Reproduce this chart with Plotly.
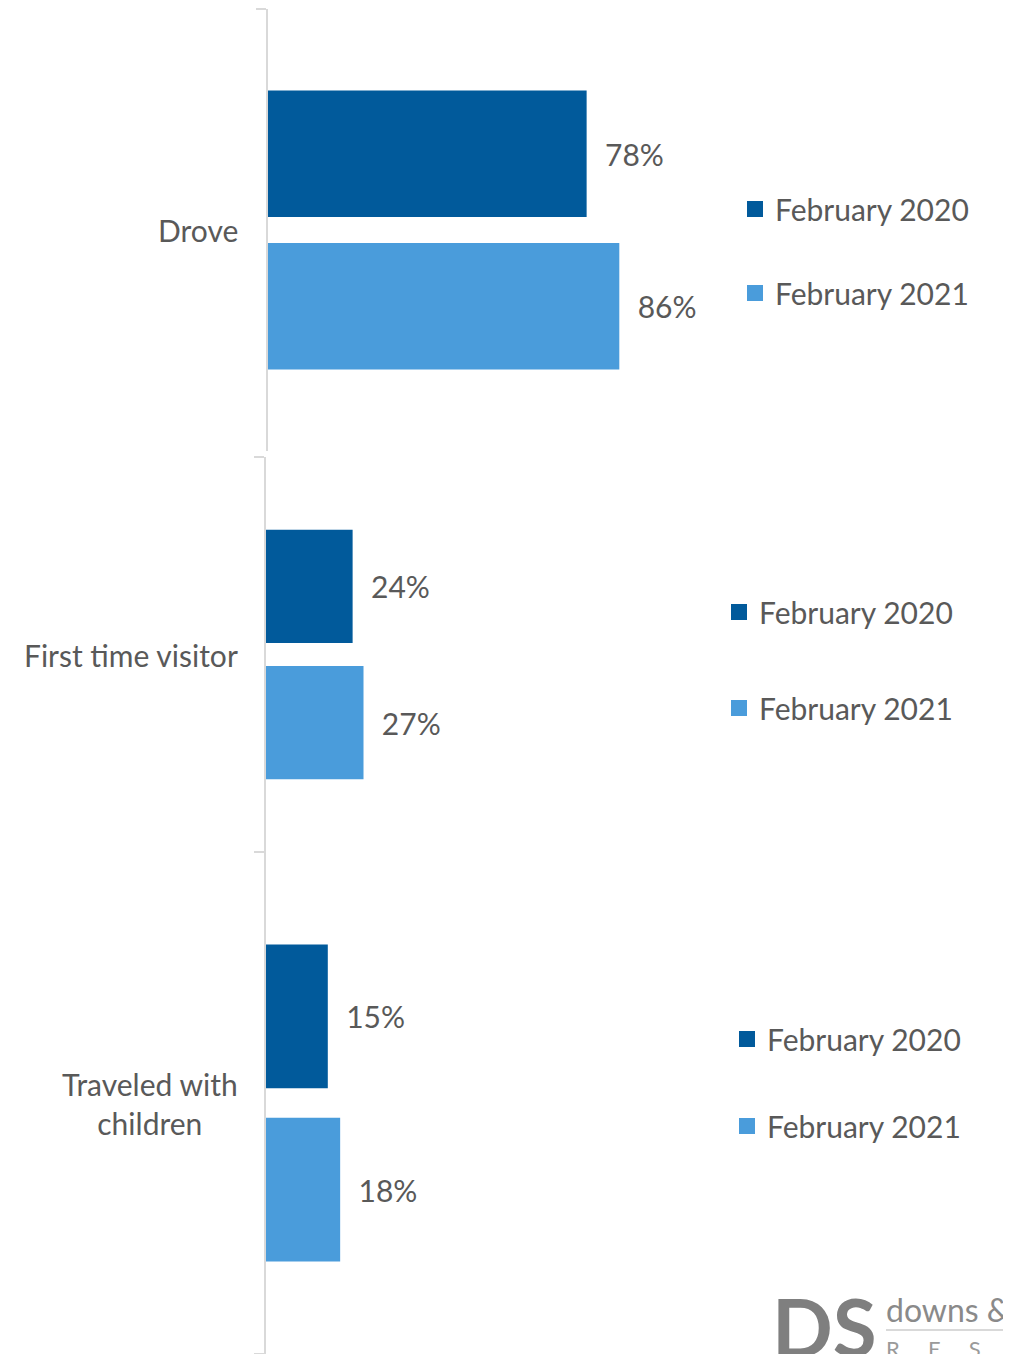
import plotly.graph_objects as go

# ---- data ----
categories = ["Drove", "First time visitor", "Traveled with<br>children"]
series_names = ["February 2020", "February 2021"]
feb2020 = [78, 24, 15]
feb2021 = [86, 27, 18]

# ---- style ----
W, H = 1011, 1354
OFF = 8  # page body margin offset
FONT = "Lato"
FS = 30
TXT = "#595959"
COL = ["#015a9b", "#4a9cdb"]
AXC = "#d9d9d9"


def px(X):
    return (X - OFF) / W


def py(Y):
    return 1 - (Y - OFF) / H


# panel geometry in reference pixels
panels = [
    dict(top=9, bottom=451, x0=268, scale=4.085, leg_x=735, leg_y=251, gap=42),
    dict(top=457, bottom=852, x0=265.5, scale=3.63, leg_x=719, leg_y=660, gap=54),
    dict(top=852, bottom=1354, x0=266, scale=4.12, leg_x=727, leg_y=1082.5, gap=45),
]

fig = go.Figure()
values = [feb2020, feb2021]
for i, cat in enumerate(categories):
    n = i + 1
    sfx = "" if n == 1 else str(n)
    for s, name in enumerate(series_names):
        v = values[s][i]
        fig.add_trace(go.Bar(
            y=[cat], x=[v], orientation="h", name=name, showlegend=False,
            marker=dict(color=COL[s], line=dict(width=0)),
            text=["\u00a0\u00a0" + f"{v}%"], textposition="outside",
            textfont=dict(family=FONT, size=FS, color=TXT),
            constraintext="none", cliponaxis=False,
            xaxis="x" + sfx, yaxis="y" + sfx,
            hoverinfo="skip",
        ))
    for s, name in enumerate(series_names):
        fig.add_trace(go.Scatter(
            x=[None], y=[None], mode="markers", name=name,
            marker=dict(symbol="square", size=17, color=COL[s]),
            xaxis="x" + sfx, yaxis="y" + sfx,
            legend="legend" + sfx, legendgroup=f"p{n}s{s}",
            hoverinfo="skip",
        ))

layout = dict(
    width=W, height=H, margin=dict(l=0, r=0, t=0, b=0),
    paper_bgcolor="white", plot_bgcolor="white",
    barmode="group", bargap=0.31, bargroupgap=0.17,
    font=dict(family=FONT, size=FS, color=TXT),
)
annotations = []
for i, p in enumerate(panels):
    n = i + 1
    sfx = "" if n == 1 else str(n)
    xd0 = px(p["x0"])
    xmax = (W - (p["x0"] - OFF)) / p["scale"]
    layout["xaxis" + sfx] = dict(
        domain=[xd0, 1], range=[0, xmax], anchor="y" + sfx,
        visible=False, showgrid=False, zeroline=False, fixedrange=True,
    )
    layout["yaxis" + sfx] = dict(
        domain=[py(p["bottom"]), py(p["top"])], anchor="x" + sfx,
        type="category", range=[0.5, -0.5],
        showline=True, linecolor=AXC, linewidth=2,
        ticks="outside", ticklen=10, tickwidth=2, tickcolor=AXC,
        tickson="boundaries", showticklabels=False, showgrid=False,
        zeroline=False, fixedrange=True,
    )
    layout["legend" + sfx] = dict(
        x=px(p["leg_x"]), y=py(p["leg_y"]), xanchor="left", yanchor="middle",
        traceorder="grouped", tracegroupgap=p["gap"],
        font=dict(family=FONT, size=FS, color=TXT),
        bgcolor="rgba(0,0,0,0)", borderwidth=0,
    )
    annotations.append(dict(
        text=categories[i], xref="paper", x=px(240), xanchor="right",
        yref="y" + sfx, y=categories[i], yanchor="middle",
        showarrow=False, align="center",
        font=dict(family=FONT, size=FS, color=TXT),
    ))

# logo (text approximation)
R_SP = "\u00a0" * 5
annotations += [
    dict(text="<b>DS</b>", xref="paper", yref="paper", x=px(770), y=py(1326),
         xanchor="left", yanchor="middle", showarrow=False,
         font=dict(family=FONT, size=80, color="#7f7f7f")),
    dict(text="downs &amp; st. germain", xref="paper", yref="paper", x=px(884), y=py(1309),
         xanchor="left", yanchor="middle", showarrow=False,
         font=dict(family=FONT, size=32, color="#8a8a8a")),
    dict(text=R_SP.join("RESEARCH"), xref="paper", yref="paper", x=px(884), y=py(1348),
         xanchor="left", yanchor="middle", showarrow=False,
         font=dict(family=FONT, size=22, color="#9a9a9a")),
]
layout["annotations"] = annotations
layout["shapes"] = [dict(type="line", xref="paper", yref="paper",
                         x0=px(886), x1=1, y0=py(1330), y1=py(1330),
                         line=dict(color="#cccccc", width=1.5))]

fig.update_layout(**layout)
fig.write_html("out.html")
